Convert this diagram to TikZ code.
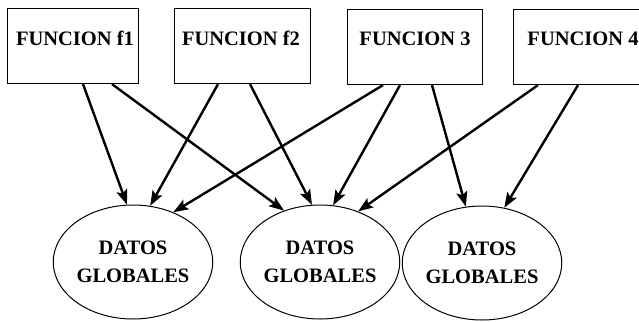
\documentclass[tikz,border=0pt]{standalone}
\usepackage{fontspec}
\setmainfont{Liberation Serif}
\usetikzlibrary{shapes.geometric,arrows.meta}
\begin{document}
\begin{tikzpicture}[x=1pt,y=-1pt,
  funcbox/.style={draw,line width=1.1pt,inner sep=0pt,anchor=north west,minimum height=75pt},
  datos/.style={draw,ellipse,line width=1pt,minimum width=136pt,minimum height=114pt,inner sep=0pt,align=center},
  lbl/.style={font=\fontsize{20.5}{28}\selectfont\bfseries},
  flow/.style={line width=2.4pt,-{Stealth[length=15pt,width=11pt,inset=3pt]}}]
\clip (0,0) rectangle (639,321);
\fill[white] (0,0) rectangle (639,321);

% function boxes
\node[funcbox,minimum width=131pt] (f1) at (7,8) {};
\node[funcbox,minimum width=136pt] (f2) at (174,8) {};
\node[funcbox,minimum width=135pt] (f3) at (347,9) {};
\node[funcbox,minimum width=140pt] (f4) at (513,9) {};
\node[lbl] (t1) at (75,38) {FUNCION f1};
\node[lbl] (t2) at (241,38) {FUNCION f2};
\node[lbl] (t3) at (415,39) {FUNCION 3};
\node[lbl] (t4) at (583,39) {FUNCION 4};

% global data stores
\node[datos,lbl] (c1) at (133,262) {DATOS\\GLOBALES};
\node[datos,lbl] (c2) at (320,262) {DATOS\\GLOBALES};
\node[datos,lbl] (c3) at (482,263) {DATOS\\GLOBALES};

% accesses
\draw[flow] ([xshift=76pt]f1.south west) -- (c1.96);
\draw[flow] ([xshift=105pt]f1.south west) -- (c2.125);
\draw[flow] ([xshift=44pt]f2.south west) -- (c1.73);
\draw[flow] ([xshift=76pt]f2.south west) -- (c2.98);
\draw[flow] ([xshift=36pt]f3.south west) -- (c1.51);
\draw[flow] ([xshift=53pt]f3.south west) -- (c2.77);
\draw[flow] ([xshift=85pt]f3.south west) -- (c3.106);
\draw[flow] ([xshift=25pt]f4.south west) -- (c2.53);
\draw[flow] ([xshift=65pt]f4.south west) -- (c3.68);
\end{tikzpicture}
\end{document}
